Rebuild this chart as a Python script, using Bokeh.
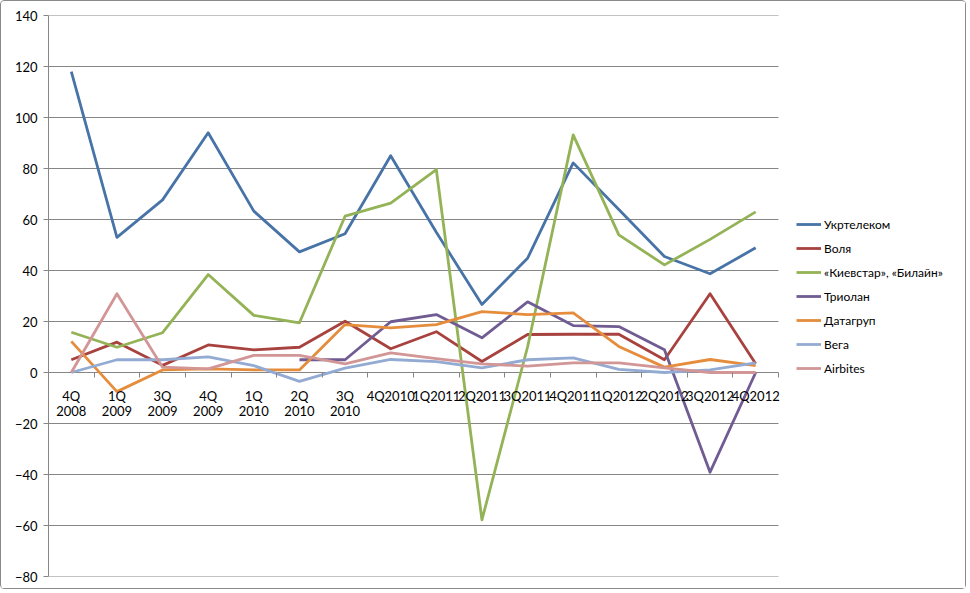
import numpy as np
from bokeh.plotting import figure
from bokeh.models import Range1d, FixedTicker, Legend, LegendItem
from bokeh.embed import file_html
from bokeh.resources import INLINE

categories = ["4Q 2008", "1Q 2009", "3Q 2009", "4Q 2009", "1Q 2010", "2Q 2010", "3Q 2010",
              "4Q2010", "1Q2011", "2Q2011", "3Q2011", "4Q2011", "1Q2012", "2Q2012", "3Q2012", "4Q2012"]

ukrtelecom = [118, 53, 67.7, 94, 63.3, 47.3, 54.4, 85, 55, 26.7, 44.8, 82.2, 63.9, 45.5, 38.7, 48.9]
volya      = [5, 11.9, 2.8, 10.8, 8.9, 9.9, 20.1, 9.3, 16, 4.3, 14.9, 15, 15, 5, 30.9, 3.4]
kyivstar   = [15.8, 9.9, 15.6, 38.4, 22.4, 19.5, 61.3, 66.4, 79.6, -57.8, 10, 93.2, 54, 42.2, 52.2, 63]
triolan    = [np.nan, np.nan, np.nan, np.nan, np.nan, 5, 5, 19.9, 22.7, 13.6, 27.7, 18.4, 18, 8.9, -39.1, 0]
datagroup  = [12.2, -7.5, 1, 1.4, 1, 1, 18.8, 17.5, 18.8, 23.9, 22.7, 23.4, 10.2, 2.1, 5.1, 2.7]
vega       = [0, 5, 5, 6.1, 2.7, -3.5, 1.7, 5.1, 4.3, 1.8, 5, 5.7, 1.2, 0, 1, 3.8]
airbites   = [0, 30.9, 2.1, 1.4, 6.7, 6.7, 3.4, 7.7, 5.4, 3.4, 2.5, 3.8, 3.8, 1.8, 0, 0]

series_names = ["Укртелеком", "Воля", "«Киевстар», «Билайн»", "Триолан", "Датагруп", "Вега", "Airbites"]
series_values = [ukrtelecom, volya, kyivstar, triolan, datagroup, vega, airbites]
colors = ["#4773A6", "#A8423F", "#93B356", "#705C92", "#E58D3D", "#93ABD2", "#D29697"]

y_ticks = list(range(-80, 141, 20))

FONT = "Lato"
GRID = "#868686"

n = len(categories)
x_idx = list(range(n))

# layout (pixels)
W, H = 966, 589
LEFT, RIGHT, TOP, BOTTOM = 47, 5, 14, 14
CAT_PX = 730 / n                      # width of one category slot
frame_w = W - LEFT - RIGHT
x_end = -0.5 + frame_w / CAT_PX       # frame extends past categories to hold the legend

p = figure(width=W, height=H,
           x_range=Range1d(-0.5, x_end),
           y_range=Range1d(-80, 140),
           output_backend="svg", toolbar_location=None,
           min_border_left=LEFT, min_border_top=TOP, min_border_bottom=BOTTOM, min_border_right=RIGHT,
           styles={"border": "1px solid #8a8a8a", "border-radius": "4px"})
p.outline_line_color = None
p.background_fill_color = "white"
p.border_fill_color = "white"
p.xgrid.grid_line_color = None
p.ygrid.grid_line_color = None

# horizontal gridlines over the category area only
p.segment(x0=[-0.5] * len(y_ticks), x1=[n - 0.5] * len(y_ticks), y0=y_ticks, y1=y_ticks,
          line_color=GRID, line_width=1)

# y axis
p.yaxis.ticker = FixedTicker(ticks=y_ticks)
p.yaxis.axis_line_color = GRID
p.yaxis.major_tick_line_color = GRID
p.yaxis.major_tick_out = 5
p.yaxis.major_tick_in = 0
p.yaxis.minor_tick_line_color = None
p.yaxis.major_label_text_font = FONT
p.yaxis.major_label_text_font_size = "13px"
p.yaxis.major_label_text_color = "#000000"
p.yaxis.major_label_standoff = 6

# x axis positioned at zero
labels = {i: c.replace(" ", "\n") for i, c in enumerate(categories)}
p.xaxis.ticker = FixedTicker(ticks=x_idx, minor_ticks=[i - 0.5 for i in range(n + 1)])
p.xaxis.major_label_overrides = labels
p.xaxis.fixed_location = 0
p.xaxis.axis_line_color = None
p.xaxis.major_tick_line_color = None
p.xaxis.minor_tick_line_color = GRID
p.xaxis.minor_tick_out = 5
p.xaxis.minor_tick_in = 0
p.xaxis.major_label_text_font = FONT
p.xaxis.major_label_text_font_size = "13px"
p.xaxis.major_label_text_line_height = 0.95
p.xaxis.major_label_text_color = "#000000"
p.xaxis.major_label_standoff = 9

items = []
for name, vals, col in zip(series_names, series_values, colors):
    r = p.line(x_idx, vals, line_color=col, line_width=2.8, line_join="round")
    items.append(LegendItem(label=name, renderers=[r]))

legend = Legend(items=items, location=(748, 198),
                label_text_font=FONT, label_text_font_size="12px", label_text_color="#000000",
                glyph_width=25, glyph_height=20, spacing=4, label_standoff=3,
                border_line_color=None, background_fill_alpha=0, padding=10, margin=0)
p.add_layout(legend, "center")

open("out.html", "w").write(file_html(p, INLINE))
